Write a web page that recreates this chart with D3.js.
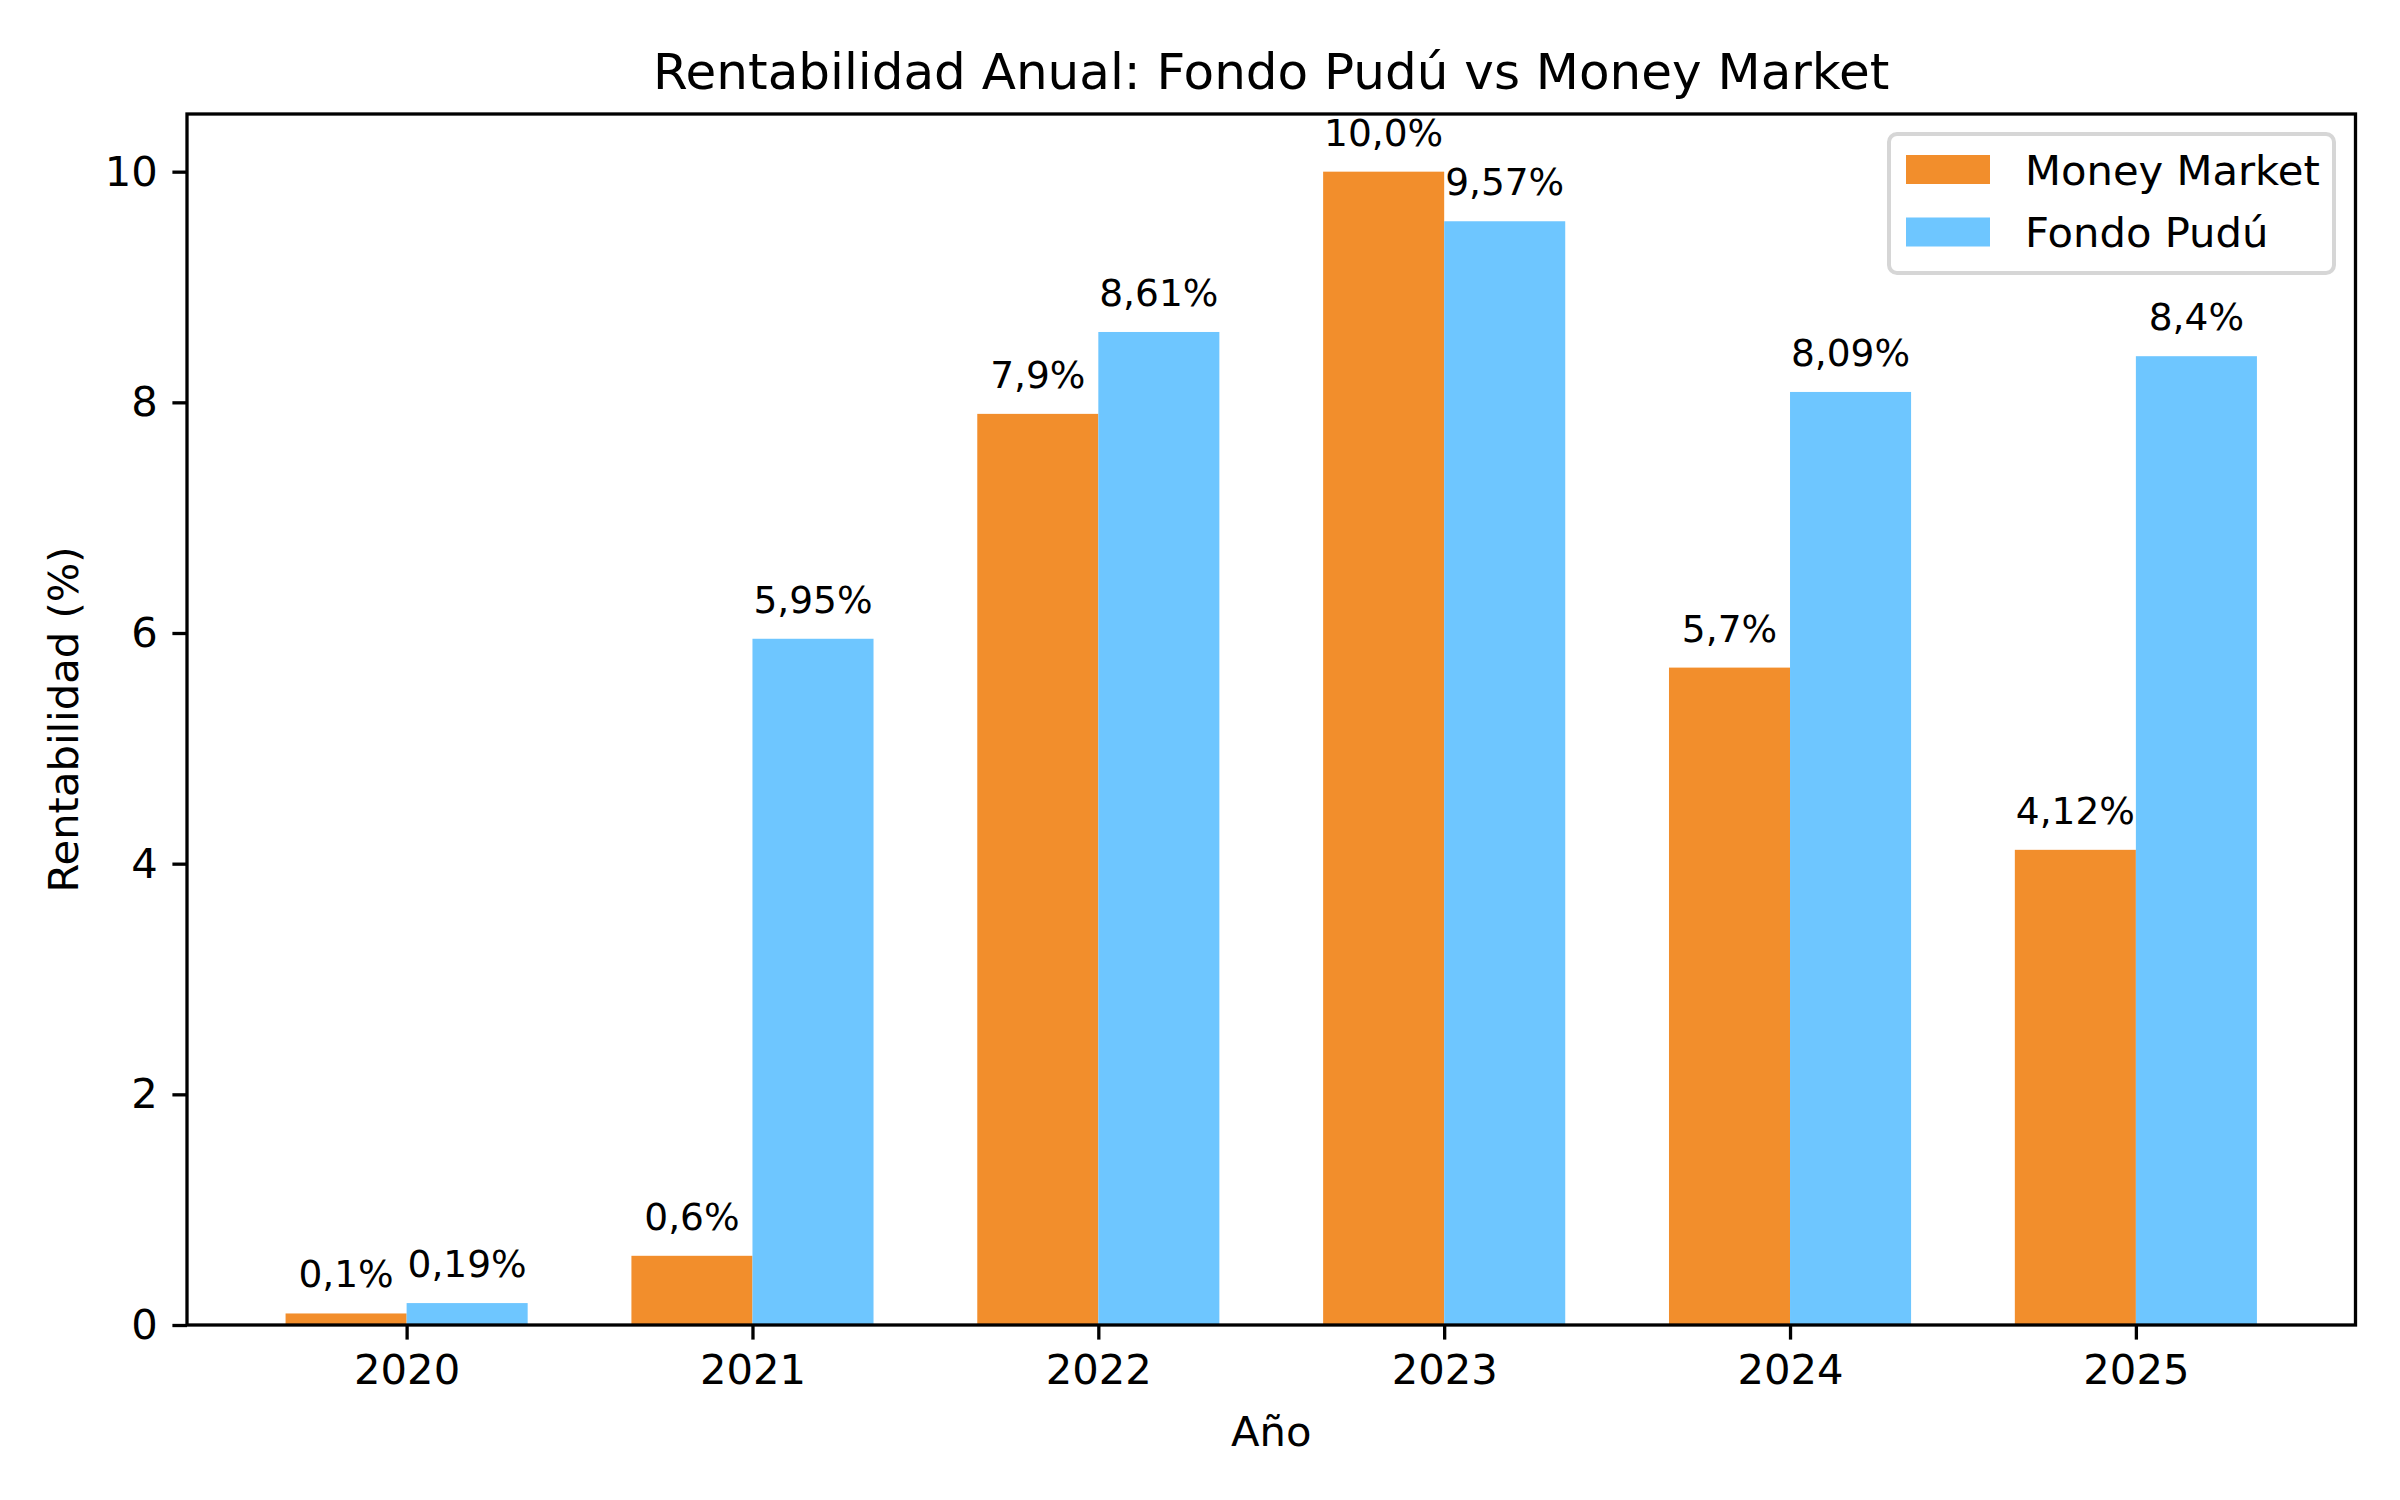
<!DOCTYPE html>
<html>
<head>
<meta charset="utf-8">
<script src="https://cdn.jsdelivr.net/npm/d3@7"></script>
<style>
  body { margin: 0; background: #fff; }
  text { font-family: "DejaVu Sans", sans-serif; }
</style>
</head>
<body>
<script>
var years = ["2020", "2021", "2022", "2023", "2024", "2025"]
var moneyMarket = [0.1, 0.6, 7.9, 10.0, 5.7, 4.12]
var fondoPudu = [0.19, 5.95, 8.61, 9.57, 8.09, 8.4]
var yTicks = [0, 2, 4, 6, 8, 10]
var seriesNames = ["Money Market", "Fondo Pudú"]
var colors = ["#f28e2c", "#6ec6ff"]

var W = 2400, H = 1500
// plot area (window.top is reserved, so no plain "top")
var pLeft = 187, pRight = 2355.5, pTop = 114, pBottom = 1325
var barW = 0.35

// comma decimal, keep the decimals as printed in the chart
function fmt(v) {
  var s = String(v)
  if (s.indexOf(".") < 0) s = s + ".0"
  return s.replace(".", ",") + "%"
}

var svg = d3.select("body").append("svg")
  .attr("width", W).attr("height", H)

var x = d3.scaleLinear().domain([-0.635, 5.635]).range([pLeft, pRight])
var y = d3.scaleLinear().domain([0, 10.5]).range([pBottom, pTop])

var series = [moneyMarket, fondoPudu]

series.forEach(function(vals, s) {
  var off = s == 0 ? -barW : 0
  svg.append("g").selectAll("rect").data(vals).enter().append("rect")
    .attr("x", function(d, i) { return x(i + off) })
    .attr("width", x(barW) - x(0))
    .attr("y", function(d) { return y(d) })
    .attr("height", function(d) { return y(0) - y(d) })
    .attr("fill", colors[s])

  svg.append("g").selectAll("text").data(vals).enter().append("text")
    .attr("x", function(d, i) { return x(i + off + barW / 2) })
    .attr("y", function(d) { return y(d + 0.2) - 3 })
    .attr("text-anchor", "middle")
    .attr("font-size", 37.5)
    .text(function(d) { return fmt(d) })
})

// axes
var xAxis = d3.axisBottom(x).tickValues(d3.range(years.length))
  .tickFormat(function(i) { return years[i] })
  .tickSize(14.6).tickPadding(14.6).tickSizeOuter(0)
var gx = svg.append("g").attr("transform", "translate(0," + pBottom + ")").call(xAxis)

var yAxis = d3.axisLeft(y).tickValues(yTicks)
  .tickSize(14.6).tickPadding(14.6).tickSizeOuter(0)
var gy = svg.append("g").attr("transform", "translate(" + pLeft + ",0)").call(yAxis)

;[gx, gy].forEach(function(g) {
  g.select(".domain").remove()
  g.selectAll("line").attr("stroke", "#000").attr("stroke-width", 3.3)
  g.selectAll("text").attr("font-size", 41.7).attr("fill", "#000")
    .attr("font-family", "DejaVu Sans")
})

svg.append("rect")
  .attr("x", pLeft).attr("y", pTop)
  .attr("width", pRight - pLeft).attr("height", pBottom - pTop)
  .attr("fill", "none").attr("stroke", "#000").attr("stroke-width", 3.3)

// titles
svg.append("text").attr("x", (pLeft + pRight) / 2).attr("y", 89)
  .attr("text-anchor", "middle").attr("font-size", 50)
  .text("Rentabilidad Anual: Fondo Pudú vs Money Market")

svg.append("text").attr("x", (pLeft + pRight) / 2).attr("y", 1446)
  .attr("text-anchor", "middle").attr("font-size", 41.7)
  .text("Año")

svg.append("text")
  .attr("transform", "translate(78," + (pTop + pBottom) / 2 + ") rotate(-90)")
  .attr("text-anchor", "middle").attr("font-size", 41.7)
  .text("Rentabilidad (%)")

// legend
var lg = svg.append("g")
lg.append("rect").attr("x", 1889).attr("y", 134).attr("width", 445).attr("height", 139)
  .attr("rx", 8).attr("fill", "#fff").attr("fill-opacity", 0.8)
  .attr("stroke", "#d6d6d6").attr("stroke-width", 4)

var items = lg.selectAll("g.item").data(seriesNames).enter().append("g")
  .attr("transform", function(d, i) { return "translate(0," + (i * 62.5) + ")" })
items.append("rect").attr("x", 1906).attr("y", 155).attr("width", 84).attr("height", 29)
  .attr("fill", function(d, i) { return colors[i] })
items.append("text").attr("x", 2025).attr("y", 184.5).attr("font-size", 41.7)
  .text(function(d) { return d })
</script>
</body>
</html>
